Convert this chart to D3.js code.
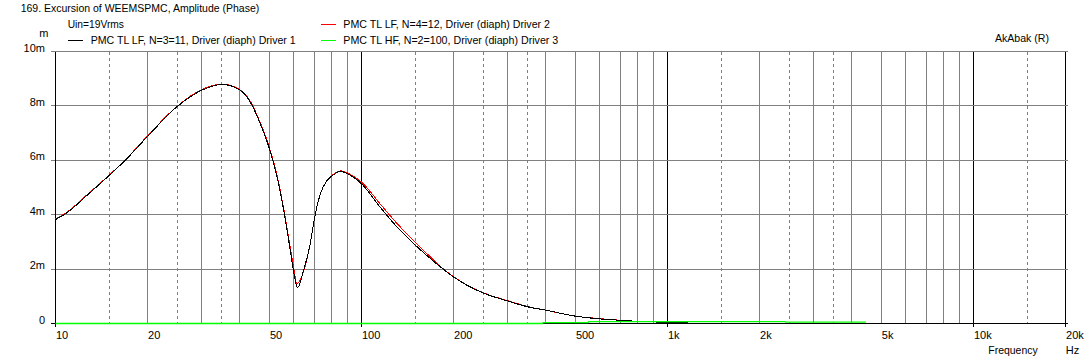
<!DOCTYPE html>
<html><head><meta charset="utf-8">
<script src="https://cdn.jsdelivr.net/npm/d3@7"></script>
<style>
body{margin:0;background:#fff}
svg text{font-family:"Liberation Sans",Arial,sans-serif;font-size:11px;fill:#000}
</style></head><body>
<svg id="c" width="1092" height="361"></svg>
<script>
// ---- data ----
const freqDriver1 = [10,10.8,12.85,15,16.9,20,25,30,35,40,43.3,46.7,50,53,55.7,58.5,60,61.8,64.7,68,70.7,73.4,77.2,80,85.5,92,100,115,130.6,150,167.8,185.4,200,250,300,350,400,500,600,700,800,900,1000,1170];
const excDriver1  = [3.82,4.04,4.77,5.45,6.0,6.88,7.98,8.57,8.79,8.59,8.14,7.34,6.43,5.38,4.16,2.69,1.9,1.32,1.96,2.94,4.04,4.77,5.26,5.42,5.59,5.45,5.14,4.28,3.55,2.88,2.39,1.99,1.71,1.12,0.83,0.61,0.49,0.27,0.17,0.12,0.08,0.06,0.03,0.02];
const freqDriver2 = [10,10.8,12.85,15,16.9,20,25,30,35,40,43.3,46.7,50,53,55.7,58.5,60,61.5,64.7,68,70.7,73.4,77.2,80,85.5,92,100,115,130.6,150,167.8,185.4,200,250,300,350,400,500,600,700,800,900,1000,1170];
const excDriver2  = [3.84,4.06,4.79,5.46,6.01,6.9,7.99,8.6,8.8,8.6,8.17,7.38,6.47,5.43,4.22,2.8,2.05,1.47,1.92,2.94,4.04,4.77,5.26,5.44,5.61,5.48,5.2,4.4,3.68,2.98,2.45,2.0,1.72,1.13,0.84,0.62,0.49,0.27,0.18,0.12,0.08,0.06,0.03,0.02];
const freqDriver3 = [10,390,392,550,552,2420,2430,4450];
const excDriver3  = [0,0,0.03,0.03,0.07,0.07,0.05,0.05];
const yTickValues = [0,2,4,6,8,10];
const yTickLabels = ["0","2m","4m","6m","8m","10m"];
const xTickValues = [10,20,50,100,200,500,1000,2000,5000,10000,20000];
const xTickLabels = ["10","20","50","100","200","500","1k","2k","5k","10k","20k"];
const legendItems = [
  {label:"PMC TL LF, N=3=11, Driver (diaph) Driver 1", color:"#000000"},
  {label:"PMC TL LF, N=4=12, Driver (diaph) Driver 2", color:"#ff0000"},
  {label:"PMC TL HF, N=2=100, Driver (diaph) Driver 3", color:"#00ff00"}
];

// ---- chart ----
const svg = d3.select("#c");
const x = d3.scaleLog().domain([10,20000]).range([55.5,1065.6]);
const y = d3.scaleLinear().domain([0,10]).range([323.5,51.5]);
const px = v => Math.floor(x(v)) + 0.5;
const py = v => Math.round(y(v) - 0.5) + 0.5;

// vertical grid
const gridF = [];
[10,100,1000,10000].forEach(d=>{
  [1,1.5,2,2.5,3,3.5,4,5,6,7,8,9].forEach(m=>{
    const f=d*m; if(f<=20000) gridF.push({f, kind: m===1?"major":(m%1!==0?"dash":"minor")});
  });
});
gridF.push({f:20000,kind:"major"});
const g = svg.append("g").attr("shape-rendering","crispEdges");
g.selectAll("line.v").data(gridF).join("line")
  .attr("x1",d=>px(d.f)).attr("x2",d=>px(d.f))
  .attr("y1",py(10)).attr("y2",d=>d.kind==="major"?py(0)+3:py(0))
  .attr("stroke",d=>d.kind==="major"?"#000":"#808080")
  .attr("stroke-dasharray",d=>d.kind==="dash"?"3,3":null);

// horizontal grid
g.selectAll("line.h").data(yTickValues).join("line")
  .attr("x1",51).attr("x2",1068)
  .attr("y1",d=>py(d)).attr("y2",d=>py(d))
  .attr("stroke",d=>d===0?"#000":"#808080");

// y axis (labels)
const yAxis = d3.axisLeft(y).tickValues(yTickValues).tickFormat((d,i)=>yTickLabels[i]).tickSize(0).tickPadding(0);
const ya = svg.append("g").attr("transform","translate(45,0)").call(yAxis);
ya.select(".domain").remove();
ya.selectAll("text").attr("dy",null).attr("y",-0.5).attr("font-size",null).attr("font-family",null);
// left axis line
g.append("line").attr("x1",55.5).attr("x2",55.5).attr("y1",py(10)+2).attr("y2",py(0)+3).attr("stroke","#000");

// x axis labels
const xAxis = d3.axisBottom(x).tickValues(xTickValues).tickFormat((d,i)=>xTickLabels[i]).tickSize(0).tickPadding(0);
const xa = svg.append("g").call(xAxis);
xa.select(".domain").remove();
xa.selectAll("text").attr("dy",null).attr("y",339).attr("text-anchor","start").attr("font-size",null).attr("font-family",null);

// series
const line = (fs, c) => d3.line().x((d,i)=>x(fs[i])).y(d=>y(d)).curve(c || d3.curveMonotoneX);
svg.append("path").datum(excDriver2).attr("d",line(freqDriver2)).attr("fill","none").attr("stroke","#ff0000").attr("stroke-width",1).attr("shape-rendering","crispEdges");
svg.append("path").datum(excDriver1).attr("d",line(freqDriver1)).attr("fill","none").attr("stroke","#000").attr("stroke-width",1).attr("shape-rendering","crispEdges");
svg.append("path").datum(excDriver3).attr("d",line(freqDriver3, d3.curveLinear)).attr("fill","none").attr("stroke","#00ff00").attr("stroke-width",1.3);

// texts
const T = (tx,ty,s,len,anchor)=>{
  const t = svg.append("text").attr("x",tx).attr("y",ty).attr("text-anchor",anchor||"start").text(s);
  if(len) t.attr("textLength",len).attr("lengthAdjust","spacingAndGlyphs");
  return t;
};
T(20.7,12,"169. Excursion of WEEMSPMC, Amplitude (Phase)",238.6);
T(67.7,28,"Uin=19Vrms",56.3);
T(39.3,36.5,"m");
T(995,41.7,"AkAbak (R)",54);
T(988.3,353.5,"Frequency",49.4);
T(1065.7,353.5,"Hz");

// legend
const legPos = [{lx:67.7,ly:40.5,tx:90.7,ty:44,w:205},{lx:320.7,ly:24.5,tx:343.3,ty:28.3,w:206.7},{lx:320.7,ly:40.5,tx:343.3,ty:44,w:215}];
legendItems.forEach((it,i)=>{
  const p=legPos[i];
  svg.append("line").attr("x1",p.lx).attr("x2",p.lx+15).attr("y1",p.ly).attr("y2",p.ly).attr("stroke",it.color).attr("shape-rendering","crispEdges");
  T(p.tx,p.ty,it.label,p.w);
});
</script>
</body></html>
